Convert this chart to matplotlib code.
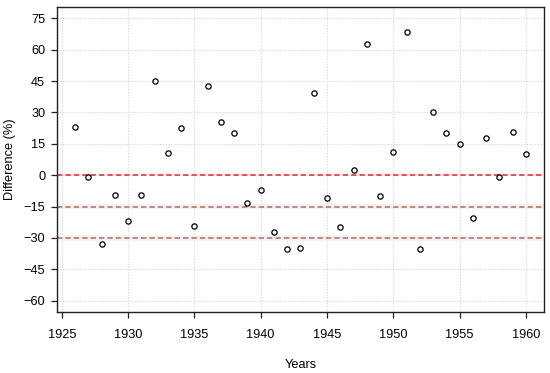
import matplotlib
matplotlib.use("Agg")
import matplotlib.pyplot as plt

years = list(range(1926, 1961))
diff_pct = [23, -1, -33, -9.5, -22, -9.5, 45, 10.5, 22.8, -24.5,
            42.5, 25.5, 20, -13.5, -7, -27, -35.5, -34.7, 39.5, -10.7,
            -24.8, 2.5, 62.5, -10, 11, 68.5, -35.5, 30, 20, 15,
            -20.5, 18, -1, 20.5, 10]
x_ticks = list(range(1925, 1961, 5))
y_ticks = list(range(-60, 76, 15))
ref_levels = [-15, -30]

plt.rcParams["font.family"] = ["Liberation Sans", "DejaVu Sans"]

fig = plt.figure(figsize=(5.5, 3.73), dpi=100)
ax = fig.add_axes([0.1036, 0.1635, 0.8854, 0.8177])

for t in x_ticks:
    ax.axvline(t, color="#d3d3d3", lw=0.8, ls=(0, (1, 1.5)), zorder=0)
for t in y_ticks:
    ax.axhline(t, color="#d3d3d3", lw=0.8, ls=(0, (1, 1.5)), zorder=0)

for lv in ref_levels:
    ax.axhspan(lv - 1.3, lv + 1.3, color="#fdedf0", lw=0, zorder=0.5)
    ax.axhline(lv, color="#9c7462", lw=1.1, ls=(0, (3.5, 2)), zorder=1)
ax.axhline(0, color="#ee1c2c", lw=1.1, ls=(0, (3.5, 2)), zorder=1)

ax.plot(years, diff_pct, ls="none", marker="o", ms=3.8, mfc="none",
        mec="black", mew=0.9, zorder=3)

ax.set_xlim(1924.64, 1961.36)
ax.set_ylim(-65.4, 80.4)
ax.set_xticks(x_ticks)
ax.set_yticks(y_ticks)
ax.tick_params(axis="both", direction="out", length=4.5, width=0.9,
               labelsize=9.2, color="#222222")
ax.tick_params(axis="x", pad=7.5)
ax.tick_params(axis="y", pad=4)
for s in ax.spines.values():
    s.set_linewidth(1.0)
    s.set_color("#222222")

ax.set_xlabel("Years", fontsize=9.2, labelpad=13)
ax.set_ylabel("Difference (%)", fontsize=9.2, labelpad=5)

fig.savefig("out.png", dpi=100)
